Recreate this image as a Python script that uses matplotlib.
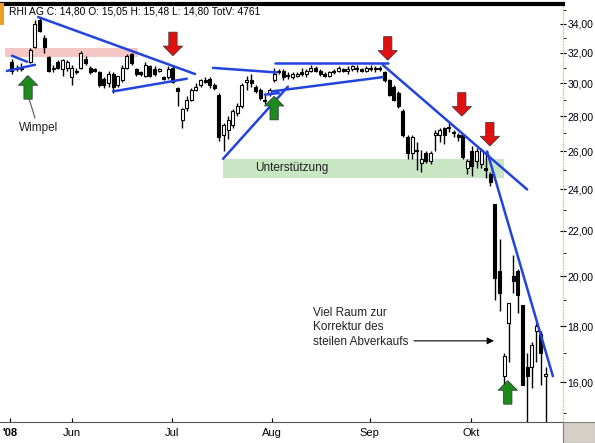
import matplotlib
matplotlib.use("Agg")
import matplotlib.pyplot as plt
import numpy as np
from matplotlib.patches import Polygon, Rectangle
from matplotlib.transforms import ScaledTranslation
from matplotlib.ticker import FixedLocator, NullFormatter

plt.rcParams['font.family'] = ['Liberation Sans', 'DejaVu Sans']

ohlc = [
(31.4,31.6,30.6,30.8),(30.9,31.2,30.8,31.0),(31.0,31.3,30.8,30.9),(30.3,30.5,29.7,29.8),
(31.4,32.3,31.3,32.2),(32.4,34.3,32.3,34.0),(34.3,34.5,33.4,33.5),(33.0,33.2,32.0,32.4),
(31.7,31.8,30.7,30.8),(30.9,31.2,30.7,31.0),(31.4,31.5,30.9,31.0),(30.9,31.6,30.5,31.5),
(31.0,31.5,30.8,31.4),(30.4,31.2,29.9,31.0),(30.8,31.0,30.6,30.7),(31.0,32.1,30.9,32.0),
(31.6,31.8,31.2,31.3),(31.0,31.1,30.6,30.7),(30.9,31.0,30.7,30.8),(30.7,30.8,29.8,29.9),
(30.3,30.4,29.7,29.9),(30.0,30.8,29.8,30.6),(30.6,30.7,29.4,29.8),(29.9,30.5,29.8,30.5),
(30.2,31.2,30.1,31.0),(31.0,31.9,30.9,31.8),(31.9,32.0,31.2,31.3),(30.9,31.0,30.5,30.6),
(30.7,30.8,30.5,30.6),(30.5,31.4,30.4,31.2),(31.1,31.2,30.4,30.5),(30.9,31.1,30.5,30.6),
(30.8,31.0,30.7,30.9),(30.4,30.5,30.2,30.3),(30.4,31.1,30.3,30.9),(31.0,31.1,30.0,30.1),
(29.7,29.8,28.6,29.5),(27.8,28.5,27.3,28.4),(28.5,29.2,28.3,29.0),(29.0,29.7,28.9,29.6),
(29.6,30.0,29.5,29.8),(29.9,30.3,29.8,30.2),(30.2,30.4,30.0,30.1),(30.3,30.4,29.7,29.9),
(29.9,30.0,29.6,29.7),(29.3,29.4,26.6,26.8),(26.9,27.6,26.0,27.5),(27.2,28.0,26.7,27.8),
(27.5,28.4,27.3,28.3),(28.2,28.8,28.0,28.6),(28.6,30.0,28.5,29.9),(30.1,30.5,29.6,30.2),
(30.2,30.6,29.8,30.0),(29.8,29.9,29.4,29.5),(29.6,29.7,29.0,29.1),(29.0,29.3,28.7,28.9),
(29.4,29.7,29.2,29.6),(30.2,31.0,30.1,30.6),(30.8,30.9,30.6,30.7),(30.8,30.9,30.2,30.4),
(30.5,30.7,30.3,30.5),(30.4,30.7,30.3,30.6),(30.5,30.7,30.4,30.6),(30.7,31.0,30.5,30.6),
(30.6,30.9,30.4,30.8),(30.8,31.2,30.7,31.0),(31.0,31.1,30.7,30.8),(30.8,30.9,30.5,30.6),
(30.6,30.7,30.4,30.5),(30.5,30.8,30.4,30.7),(30.7,30.9,30.6,30.8),(30.8,31.1,30.7,31.0),
(30.9,31.0,30.7,30.8),(30.8,31.1,30.6,30.9),(30.9,31.2,30.8,31.1),(31.0,31.2,30.7,30.9),
(30.9,31.0,30.7,30.8),(30.8,31.1,30.7,31.0),(31.0,31.2,30.8,30.9),(30.9,31.1,30.7,31.0),
(31.0,31.1,30.8,30.9),(30.7,30.8,30.1,30.2),(30.2,30.3,29.2,29.3),(29.8,29.9,28.9,29.0),
(29.4,29.5,28.5,28.6),(28.3,28.4,26.8,26.9),(26.8,26.9,25.6,25.9),(25.9,26.9,25.6,26.8),
(26.1,26.5,25.0,26.0),(25.4,26.1,24.9,25.6),(25.9,26.0,25.4,25.5),(25.5,26.0,25.3,25.9),
(26.9,27.2,26.0,27.0),(26.9,27.3,26.5,27.2),(27.3,27.4,26.4,26.9),(27.3,27.6,27.1,27.4),
(27.1,27.2,26.8,27.0),(26.9,27.0,26.6,26.8),(26.9,27.0,25.6,25.7),(25.1,25.6,24.8,25.5),
(26.0,26.3,24.7,25.2),(25.5,26.2,25.1,26.0),(25.3,26.2,25.1,26.1),(25.1,26.0,24.6,25.0),
(24.8,24.9,24.2,24.4),(23.3,23.3,19.0,19.9),(20.2,21.6,18.6,19.3),(16.2,17.0,15.3,16.9),
(18.1,18.9,16.7,18.9),(20.0,20.9,19.3,19.8),(20.2,20.3,18.5,19.2),(18.8,18.8,15.9,15.9),
(16.5,17.0,14.7,16.2),(16.5,17.4,15.8,17.3),(17.8,18.1,16.7,18.0),(17.7,17.8,15.9,17.0),
(16.2,16.5,14.7,16.2),
]
opens = [r[0] for r in ohlc]; highs = [r[1] for r in ohlc]
lows = [r[2] for r in ohlc]; closes = [r[3] for r in ohlc]

month_pos = [-0.4, 13, 34.8, 56.5, 77.8, 99.8]
month_labels = ["'08", "Jun", "Jul", "Aug", "Sep", "Okt"]
y_ticks = [16, 18, 20, 22, 24, 26, 28, 30, 32, 34]

trend_lines = [
    (0.0, 31.8, 3.3, 31.4), (-1.1, 30.8, 5.0, 31.2),
    (5.7, 34.5, 39.8, 30.6), (22.0, 29.5, 38.0, 30.3),
    (43.7, 31.0, 57.6, 30.7), (57.2, 31.3, 81.7, 31.3),
    (56.5, 29.5, 80.6, 30.4), (45.9, 25.6, 60.0, 29.8),
    (55.0, 29.3, 58.0, 29.4),
    (80.6, 31.2, 112.0, 24.0), (103.3, 26.0, 117.6, 16.2),
]
down_arrows = [(35.0, 31.8), (81.7, 31.5), (97.8, 28.0), (103.9, 26.3)]
up_arrows = [(3.5, 30.5), (57.0, 29.2), (107.8, 16.05)]

fig = plt.figure(figsize=(5.95, 4.43), dpi=100)
ax = fig.add_axes([0.0, 21/443, 563/595, 418/443])
ax.set_yscale('log')
ax.set_xlim(-2.6, 119.8)
ax.set_ylim(14.71, 35.46)

w = 0.65
for i, (o, h, l, c) in enumerate(ohlc):
    ax.vlines(i, l, h, color='black', lw=1, zorder=3)
    lo, hi = min(o, c), max(o, c)
    if hi - lo < 0.05:
        hi = lo + 0.06
    fc = 'white' if c >= o else 'black'
    ax.add_patch(Rectangle((i - w/2, lo), w, hi - lo, facecolor=fc, edgecolor='black', lw=0.8, zorder=4))

ax.add_patch(Rectangle((-1.5, 31.7), 29, 0.6, facecolor='#f4c6c4', edgecolor='none', zorder=1))
ax.add_patch(Rectangle((45.8, 24.6), 61.1, 1.0, facecolor='#c8e6c4', edgecolor='none', zorder=1))
ax.text(52.8, 25.1, "Unterstützung", fontsize=8.5, va='center', ha='left', zorder=5, color='#222222')

for x0, y0, x1, y1 in trend_lines:
    ax.plot([x0, x1], [y0, y1], color='#2244dd', lw=1.8, zorder=6, solid_capstyle='round')

def arrow(x, y, up, color):
    s = -1 if up else 1
    pts = np.array([[0, 0], [7, 7*s], [3, 7*s], [3, 17*s], [-3, 17*s], [-3, 7*s], [-7, 7*s]]) / 72.0
    tr = fig.dpi_scale_trans + ScaledTranslation(x, y, ax.transData)
    ax.add_patch(Polygon(pts, closed=True, transform=tr, facecolor=color, edgecolor='#333333', lw=0.5, zorder=7))

for x, y in down_arrows:
    arrow(x, y, False, '#e01010')
for x, y in up_arrows:
    arrow(x, y, True, '#1c8a1c')

ax.text(5.7, 27.3, "Wimpel", fontsize=8.5, va='center', ha='center', color='#222222')
ax.plot([5.0, 2.8], [27.9, 29.9], color='#555555', lw=0.8)

ax.text(65.5, 17.95, "Viel Raum zur\nKorrektur des\nsteilen Abverkaufs", fontsize=8.5, va='center',
        ha='left', linespacing=1.25, color='#222222')
ax.annotate("", xy=(105.4, 17.45), xytext=(86.8, 17.45),
            arrowprops=dict(arrowstyle='-|>', color='black', lw=0.8, mutation_scale=10))

ax.text(0.016, 0.993, "RHI AG C: 14,80 O: 15,05 H: 15,48 L: 14,80 TotV: 4761", transform=ax.transAxes,
        fontsize=7.4, va='top', ha='left')
fig.patches.append(Rectangle((0, 418/443), 4/595, 22/443, transform=fig.transFigure,
                             facecolor='#f0a020', edgecolor='none'))

ax.yaxis.tick_right()
ax.yaxis.set_major_locator(FixedLocator(y_ticks))
ax.yaxis.set_minor_locator(FixedLocator([15, 17, 19, 21, 23, 25, 27, 29, 31, 33, 35]))
ax.yaxis.set_minor_formatter(NullFormatter())
ax.set_yticklabels([f"{v:.2f}".replace('.', ',') for v in y_ticks], fontsize=7.5)
ax.tick_params(axis='y', which='major', length=4, pad=1, direction='inout')
ax.tick_params(axis='y', which='minor', length=2)
ax.set_xticks(month_pos)
ax.set_xticklabels(month_labels, fontsize=8)
ax.get_xticklabels()[0].set_fontweight('bold')
ax.tick_params(axis='x', length=3, direction='in', pad=4)
ax.spines['left'].set_visible(False)
ax.spines['top'].set_linewidth(3)
ax.spines['right'].set_color('#e8c860')
ax.spines['right'].set_linestyle(':')
ax.spines['bottom'].set_color('#555555')

fig.patches.append(Rectangle((563/595, 0), 32/595, 21/443, transform=fig.transFigure,
                             facecolor='#d4d0c8', edgecolor='#808080', lw=0.8))
fig.savefig("out.png", dpi=100)
